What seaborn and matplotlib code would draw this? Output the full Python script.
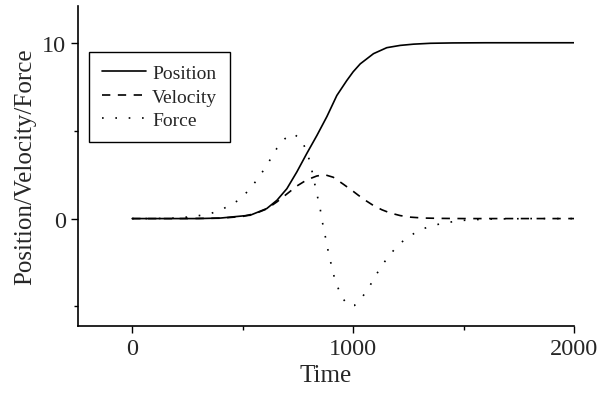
import numpy as np
import pandas as pd
import matplotlib
matplotlib.use("Agg")
import matplotlib.pyplot as plt
from matplotlib.ticker import MultipleLocator
import seaborn as sns

# values
position_t = [0, 100, 200, 300, 400, 458, 534, 609, 655, 700, 745, 790, 836,
              881, 926, 971, 1000, 1032, 1092, 1152, 1213, 1273, 1350, 1450,
              1600, 1800, 2000]
position_y = [0, 0, 0, 0, 0.03, 0.1, 0.19, 0.57, 1.04, 1.7, 2.65, 3.7, 4.73,
              5.8, 7.0, 7.85, 8.35, 8.8, 9.38, 9.72, 9.85, 9.92, 9.97, 9.99,
              10, 10, 10]

velocity_t = [0, 200, 400, 500, 560, 609, 655, 700, 745, 790, 835, 870, 910,
              956, 1000, 1024, 1060, 1092, 1130, 1167, 1213, 1260, 1318, 1400,
              1500, 1700, 2000]
velocity_y = [0, 0, 0.02, 0.12, 0.3, 0.55, 0.95, 1.4, 1.85, 2.2, 2.42, 2.5,
              2.35, 1.95, 1.55, 1.32, 1.0, 0.74, 0.5, 0.32, 0.17, 0.08, 0.03,
              0.01, 0, 0, 0]

force_t = [0, 100, 200, 280, 353, 398, 443, 489, 541, 602, 655, 692, 730, 768,
           787, 805, 821, 836, 851, 866, 876, 884, 893, 904, 914, 929, 946,
           976, 1006, 1042, 1072, 1097, 1124, 1154, 1190, 1231, 1275, 1318,
           1362, 1409, 1500, 1600, 1800, 2000]
force_y = [0, 0, 0.03, 0.12, 0.28, 0.47, 0.76, 1.1, 1.8, 2.88, 4.0, 4.55, 4.83,
           4.45, 3.88, 3.22, 2.27, 1.4, 0.53, -0.57, -1.14, -1.67, -2.22,
           -2.77, -3.31, -3.86, -4.41, -4.94, -4.94, -4.45, -3.9, -3.35,
           -2.78, -2.25, -1.7, -1.21, -0.85, -0.57, -0.4, -0.25, -0.1, -0.03,
           0, 0]

series_names = ["Position", "Velocity", "Force"]

frames = []
for name, t, y in zip(series_names,
                      [position_t, velocity_t, force_t],
                      [position_y, velocity_y, force_y]):
    frames.append(pd.DataFrame({"Time": t, "Value": y, "Series": name}))
df = pd.concat(frames, ignore_index=True)

sns.set_style("ticks")
plt.rcParams["font.family"] = ["Liberation Serif", "DejaVu Serif"]

fig = plt.figure(figsize=(6, 4.02), dpi=100)
ax = fig.add_axes([0.13, 0.187, 0.827, 0.796])

sns.lineplot(data=df, x="Time", y="Value", style="Series",
             style_order=series_names,
             dashes={"Position": "", "Velocity": (5, 4.5), "Force": (1, 7)},
             color="black", linewidth=1.2, estimator=None, sort=True, ax=ax)

ax.set_xlim(-245, 2000)
ax.set_ylim(-6.1, 12.1)
ax.set_xticks([0, 1000, 2000])
ax.set_yticks([0, 10])
ax.xaxis.set_minor_locator(MultipleLocator(500))
ax.yaxis.set_minor_locator(MultipleLocator(5))
ax.tick_params(which="major", direction="out", length=5, width=1,
               labelsize=17.5, color="black")
ax.tick_params(which="minor", direction="out", length=3, width=1, color="black")

for side in ["top", "right"]:
    ax.spines[side].set_visible(False)
for side in ["left", "bottom"]:
    ax.spines[side].set_color("black")
    ax.spines[side].set_linewidth(1.2)

ax.set_xlabel("Time", fontsize=18)
ax.set_ylabel("Position/Velocity/Force", fontsize=18)

leg = ax.legend(loc="upper left", bbox_to_anchor=(0.022, 0.856), fontsize=14,
                frameon=True, fancybox=False, handlelength=2.3,
                borderaxespad=0, borderpad=0.65, labelspacing=0.3,
                handletextpad=0.3)
leg.get_frame().set_edgecolor("black")
leg.get_frame().set_linewidth(1.0)
leg.get_frame().set_alpha(1)

fig.savefig("out.png", dpi=100)
